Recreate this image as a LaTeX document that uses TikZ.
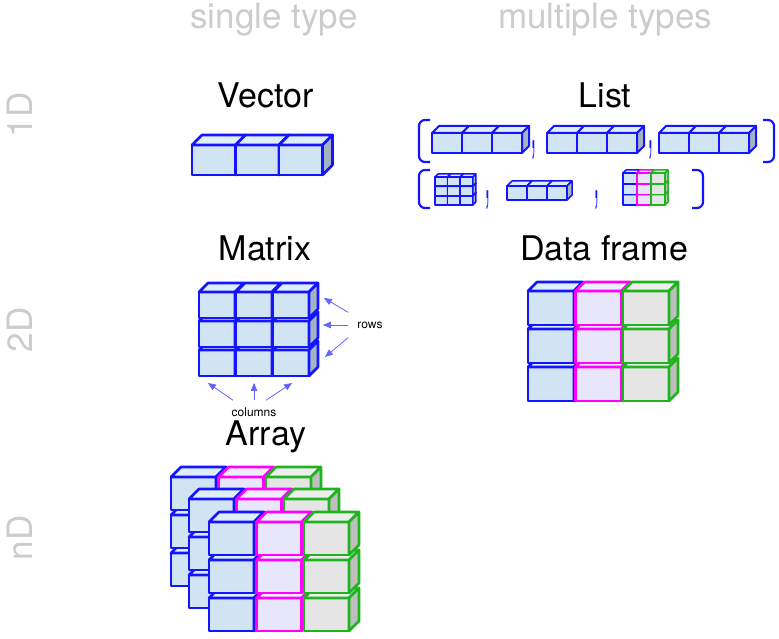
\documentclass[tikz,border=0pt]{standalone}
\usepackage{fontspec}
\setmainfont{TeX Gyre Heros}
\usepackage{graphicx}
\usetikzlibrary{arrows}

\definecolor{cbline}{RGB}{20,20,255}
\definecolor{cbfront}{RGB}{208,228,243}
\definecolor{cbtop}{RGB}{222,238,250}
\definecolor{cbside}{RGB}{165,180,195}
\definecolor{cmline}{RGB}{255,0,255}
\definecolor{cmfront}{RGB}{232,230,250}
\definecolor{cmtop}{RGB}{240,238,252}
\definecolor{cmside}{RGB}{200,190,225}
\definecolor{cgline}{RGB}{30,180,30}
\definecolor{cgfront}{RGB}{229,229,229}
\definecolor{cgtop}{RGB}{238,238,238}
\definecolor{cgside}{RGB}{190,190,190}
\definecolor{labelgray}{RGB}{204,204,204}
\definecolor{arrowblue}{RGB}{100,100,255}

% front corner (#1,#2), width #3, height #4, depth #5, colour set #6
\newcommand{\datacube}[6]{%
  \filldraw[draw=#6line,fill=#6front] (#1,#2) rectangle ++(#3,#4);
  \filldraw[draw=#6line,fill=#6top] (#1,#2) -- ++(#5,-#5) -- ++(#3,0) -- ++(-#5,#5) -- cycle;
  \filldraw[draw=#6line,fill=#6side] (#1+#3,#2) -- ++(#5,-#5) -- ++(0,#4) -- ++(-#5,#5) -- cycle;
}
\newcommand{\slimcomma}{\scalebox{0.5}[2.2]{,}}

\begin{document}
\begin{tikzpicture}[x=1pt,y=-1pt,line join=round,line width=2.6pt,
    heading/.style={anchor=base,font=\fontsize{34}{40}\selectfont},
    typelabel/.style={text=labelgray,font=\fontsize{35}{40}\selectfont},
    smalllabel/.style={font=\fontsize{12}{14}\selectfont},
    listcomma/.style={anchor=base,text=cbline,font=\fontsize{34}{34}\selectfont},
    listbracket/.style={draw=cbline,line width=2.2pt,rounded corners=6pt},
    arr/.style={-triangle 45,draw=arrowblue,line width=0.8pt}]
        \useasboundingbox (0,0) rectangle (779,639);
        \node[typelabel,anchor=base] (single) at (274,29) {single type};
        \node[typelabel,anchor=base] (multiple) at (605,29) {multiple types};
        \node[typelabel,rotate=90] (oneD) at (20,115) {1D};
        \node[typelabel,rotate=90] (twoD) at (20,330) {2D};
        \node[typelabel,rotate=90] (nD) at (20,538) {nD};
        \node[heading] (vector) at (266,108) {Vector};
        \node[heading] (list) at (605,108) {List};
        \node[heading] (matrix) at (265,261) {Matrix};
        \node[heading] (dataframe) at (604,261) {Data frame};
        \node[heading] (array) at (266,445) {Array};
        % vector
        \foreach \i in {0,1,2} {\datacube{192+43.5*\i}{145}{43.5}{30}{10}{cb}}
        % list
        \begin{scope}[line width=2pt]
        \foreach \g in {432,547,659} \foreach \i in {0,1,2} {\datacube{\g+30*\i}{133}{30}{20}{7}{cb}}
        \end{scope}
        \begin{scope}[line width=1.5pt]
        \foreach \r in {2,1,0} \foreach \c in {0,1,2} {\datacube{435+12.7*\c}{177+9.4*\r}{12.5}{9}{3}{cb}}
        \foreach \i in {0,1,2} {\datacube{507+20*\i}{186}{20}{14}{5}{cb}}
        \foreach \r in {2,1,0} \foreach \c/\ck in {0/cb,1/cm,2/cg} {\datacube{623+14*\c}{173+10.8*\r}{14}{10.5}{3}{\ck}}
        \end{scope}
        \draw[listbracket] (430,120) -- (419,120) -- (419,162) -- (430,162);
        \draw[listbracket] (763,120) -- (774,120) -- (774,162) -- (763,162);
        \draw[listbracket] (430,170) -- (419,170) -- (419,208) -- (430,208);
        \draw[listbracket] (692,170) -- (703,170) -- (703,208) -- (692,208);
        \node[listcomma] (comma1) at (534,149) {\slimcomma};
        \node[listcomma] (comma2) at (651,149) {\slimcomma};
        \node[listcomma] (comma3) at (488,199) {\slimcomma};
        \node[listcomma] (comma4) at (597,199) {\slimcomma};
        % matrix
        \foreach \r in {2,1,0} \foreach \c in {0,1,2} {\datacube{199+37*\c}{292+29*\r}{36}{26}{9}{cb}}
        \node[smalllabel,inner sep=8pt] (rows) at (370,325) {rows};
        \node[smalllabel,inner xsep=0pt,inner ysep=6pt] (columns) at (254,412) {columns};
        \coordinate (row1) at (324,298);
        \coordinate (row2) at (323,325);
        \coordinate (row3) at (325,357);
        \coordinate (col1) at (208,383);
        \coordinate (col2) at (254,383);
        \coordinate (col3) at (292,383);
        \draw[arr] (rows.north west) -- (row1);
        \draw[arr] (rows.west) -- (row2);
        \draw[arr] (rows.south west) -- (row3);
        \draw[arr] ([xshift=-21pt]columns.north) -- (col1);
        \draw[arr] (columns.north) -- (col2);
        \draw[arr] ([xshift=12pt]columns.north) -- (col3);
        % data frame
        \foreach \r in {2,1,0} \foreach \c/\ck in {0/cb,1/cm,2/cg} {\datacube{528+47.5*\c}{291+38*\r}{46}{34}{9}{\ck}}
        % array
        \foreach \lx/\ly in {171/477,189/499,209/522}
            \foreach \r in {2,1,0}
                \foreach \c/\ck in {0/cb,1/cm,2/cg}
                    {\datacube{\lx+47.5*\c}{\ly+38*\r}{45}{33}{10}{\ck}}
\end{tikzpicture}
\end{document}
